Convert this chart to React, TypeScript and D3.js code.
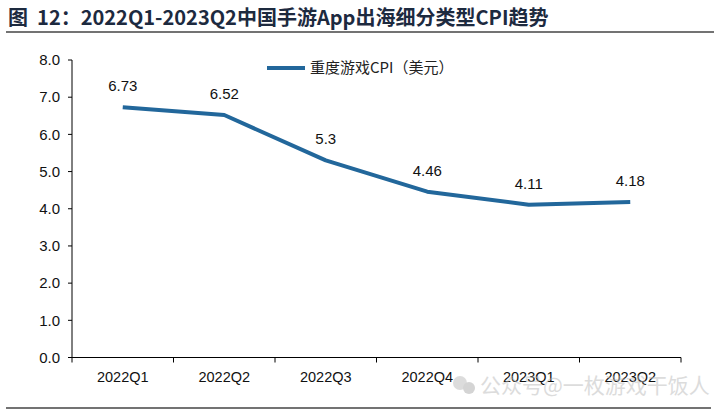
import React from "react";
import * as d3 from "d3";

const categories = ["2022Q1", "2022Q2", "2022Q3", "2022Q4", "2023Q1", "2023Q2"];
const cpiValues = [6.73, 6.52, 5.3, 4.46, 4.11, 4.18];
const valueLabels = ["6.73", "6.52", "5.3", "4.46", "4.11", "4.18"];
const yTicks = [0, 1, 2, 3, 4, 5, 6, 7, 8];
const seriesName = "重度游戏CPI（美元）";
const titleText = "图  12：2022Q1-2023Q2中国手游App出海细分类型CPI趋势";
const watermarkText = "公众号@一枚游戏干饭人";

const W = 720;
const H = 415;
const plot = { left: 72, right: 681, top: 60, bottom: 357.5 };
const lineColor = "#22679b";
const font = "'Liberation Sans', Arial, sans-serif";

export default function App() {
  const x = d3.scaleBand<string>().domain(categories).range([plot.left, plot.right]);
  const y = d3.scaleLinear().domain([0, 8]).range([plot.bottom, plot.top]);
  const line = d3
    .line<number>()
    .x((_, i) => (x(categories[i]) as number) + x.bandwidth() / 2)
    .y((d) => y(d));
  const bw = x.bandwidth();
  const tickEdges = categories.map((c) => x(c) as number).concat([plot.right]);

  return (
    <svg
      width={W}
      height={H}
      style={{ position: "absolute", left: 0, top: 0, background: "#fff" }}
      fontFamily={font}
    >
      <rect x={0} y={0} width={W} height={H} fill="#fff" />
      <text
        x={8}
        y={25}
        fontSize={20}
        fontWeight="bold"
        fill="#1d2a3f"
        fontFamily="'Noto Sans CJK SC', 'Liberation Sans', sans-serif"
        xmlSpace="preserve"
        style={{ whiteSpace: "pre" }}
      >
        {titleText}
      </text>
      <line x1={6} x2={714} y1={32} y2={32} stroke="#444" strokeWidth={1.5} />

      {/* y axis */}
      <line x1={plot.left} x2={plot.left} y1={plot.top} y2={plot.bottom} stroke="#000" strokeWidth={1} />
      {yTicks.map((t) => (
        <g key={t}>
          <line x1={plot.left - 4} x2={plot.left} y1={y(t)} y2={y(t)} stroke="#000" />
          <text x={plot.left - 12} y={y(t)} dy="0.35em" textAnchor="end" fontSize={15} fill="#111">
            {t.toFixed(1)}
          </text>
        </g>
      ))}

      {/* x axis */}
      <line x1={plot.left} x2={plot.right} y1={plot.bottom} y2={plot.bottom} stroke="#000" strokeWidth={1} />
      {tickEdges.map((e, i) => (
        <line key={i} x1={e} x2={e} y1={plot.bottom} y2={plot.bottom + 5} stroke="#000" />
      ))}
      {categories.map((c) => (
        <text key={c} x={(x(c) as number) + bw / 2} y={plot.bottom + 24} textAnchor="middle" fontSize={14.5} fill="#111">
          {c}
        </text>
      ))}

      {/* line */}
      <path d={line(cpiValues) || ""} fill="none" stroke={lineColor} strokeWidth={4} strokeLinejoin="round" />
      {cpiValues.map((v, i) => (
        <text
          key={i}
          x={(x(categories[i]) as number) + bw / 2}
          y={y(v) - 16}
          textAnchor="middle"
          fontSize={15}
          fill="#111"
        >
          {valueLabels[i]}
        </text>
      ))}

      {/* legend */}
      <line x1={267} x2={305} y1={68} y2={68} stroke={lineColor} strokeWidth={4} />
      <text
        x={310}
        y={68}
        dy="0.35em"
        fontSize={15}
        fill="#222"
        fontFamily="'Noto Sans CJK SC', 'Liberation Sans', sans-serif"
      >
        {seriesName}
      </text>

      {/* watermark */}
      <g opacity={0.5}>
        <circle cx={460} cy={383} r={7} fill="#bbb" />
        <circle cx={469} cy={388} r={6} fill="#aaa" />
        <text
          x={480}
          y={393}
          fontSize={21}
          fill="#bbb"
          fontFamily="'Noto Sans CJK SC', sans-serif"
        >
          {watermarkText}
        </text>
      </g>

      <line x1={6} x2={711} y1={408} y2={408} stroke="#444" strokeWidth={1.5} />
    </svg>
  );
}
